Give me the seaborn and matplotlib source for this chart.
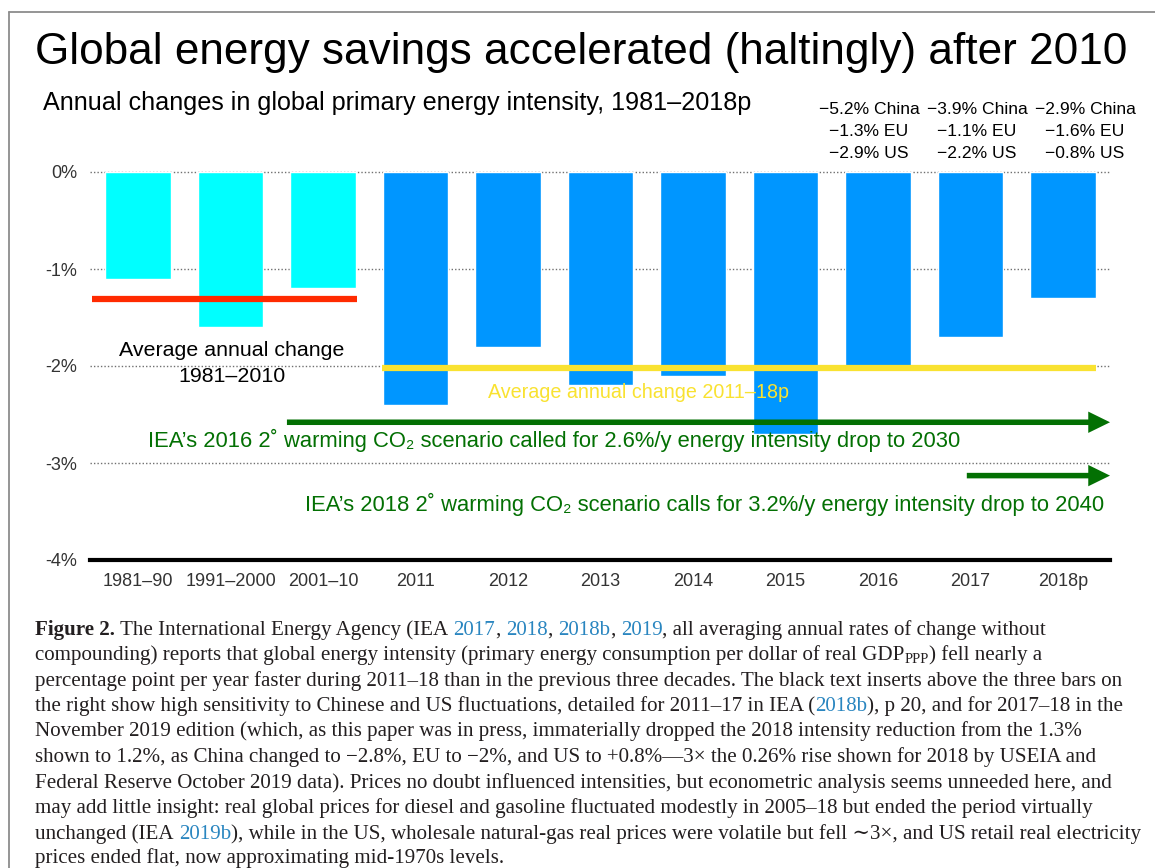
import numpy as np
import pandas as pd
import matplotlib
matplotlib.use("Agg")
import matplotlib.pyplot as plt
from matplotlib.patches import FancyArrow
from matplotlib.lines import Line2D
import seaborn as sns

# ---------------- data ----------------
periods = ["1981–90", "1991–2000", "2001–10", "2011", "2012", "2013",
           "2014", "2015", "2016", "2017", "2018p"]
changes = [-1.1, -1.6, -1.2, -2.4, -1.8, -2.2, -2.1, -2.7, -2.0, -1.7, -1.3]
bar_colors = ["#00ffff"] * 3 + ["#0096ff"] * 8

avg_1981_2010 = -1.31
avg_2011_2018 = -2.02
iea2016_level = -2.58
iea2018_level = -3.13

ytick_vals = [0, -1, -2, -3, -4]
ytick_labels = ["0%", "-1%", "-2%", "-3%", "-4%"]

insert_cols = [
    ["−5.2% China", "−1.3% EU", "−2.9% US"],
    ["−3.9% China", "−1.1% EU", "−2.2% US"],
    ["−2.9% China", "−1.6% EU", "−0.8% US"],
]

title = "Global energy savings accelerated (haltingly) after 2010"
subtitle = "Annual changes in global primary energy intensity, 1981–2018p"
green_text1 = "IEA’s 2016 2˚ warming CO₂ scenario called for 2.6%/y energy intensity drop to 2030"
green_text2 = "IEA’s 2018 2˚ warming CO₂ scenario calls for 3.2%/y energy intensity drop to 2040"
yellow_text = "Average annual change 2011–18p"
black_text1 = "Average annual change"
black_text2 = "1981–2010"

caption = [
    [("Figure 2.", "bold", False), ("The International Energy Agency (IEA", "n", True),
     ("2017", "link", True), (",", "n", False), ("2018", "link", True), (",", "n", False),
     ("2018b", "link", True), (",", "n", False), ("2019", "link", True),
     (", all averaging annual rates of change without", "n", False)],
    [("compounding) reports that global energy intensity (primary energy consumption per dollar of real GDP", "n", False),
     ("PPP", "sub", False), (") fell nearly a", "n", False)],
    [("percentage point per year faster during 2011–18 than in the previous three decades. The black text inserts above the three bars on", "n", False)],
    [("the right show high sensitivity to Chinese and US fluctuations, detailed for 2011–17 in IEA (", "n", False),
     ("2018b", "link", False), ("), p 20, and for 2017–18 in the", "n", False)],
    [("November 2019 edition (which, as this paper was in press, immaterially dropped the 2018 intensity reduction from the 1.3%", "n", False)],
    [("shown to 1.2%, as China changed to −2.8%, EU to −2%, and US to +0.8%—3× the 0.26% rise shown for 2018 by USEIA and", "n", False)],
    [("Federal Reserve October 2019 data). Prices no doubt influenced intensities, but econometric analysis seems unneeded here, and", "n", False)],
    [("may add little insight: real global prices for diesel and gasoline fluctuated modestly in 2005–18 but ended the period virtually", "n", False)],
    [("unchanged (IEA", "n", False), ("2019b", "link", True),
     ("), while in the US, wholesale natural-gas real prices were volatile but fell ∼3×, and US retail real electricity", "n", False)],
    [("prices ended flat, now approximating mid-1970s levels.", "n", False)],
]

# ---------------- style ----------------
RED = "#ff2a00"
YELLOW = "#f9e231"
GREEN = "#037003"
LINK = "#2a86c0"
SANS = ["Liberation Sans", "DejaVu Sans"]
SERIF = ["Liberation Serif", "DejaVu Serif"]

sns.set_theme(style="white")
plt.rcParams["font.family"] = SANS

W, H = 1155, 868
fig = plt.figure(figsize=(W / 100, H / 100), dpi=100)
fig.patch.set_facecolor("white")
renderer = fig.canvas.get_renderer()


def fx(px):
    return px / W


def fy(py):
    return 1 - py / H


def fit(t, target):
    w = t.get_window_extent(renderer).width
    t.set_fontsize(t.get_fontsize() * target / w)


# frame (page border)
fig.add_artist(Line2D([fx(9), fx(W + 5)], [fy(12), fy(12)], color="#8c8c8c", lw=1.3))
fig.add_artist(Line2D([fx(9), fx(9)], [fy(12), fy(H + 5)], color="#8c8c8c", lw=1.3))

# ---------------- axes ----------------
ax = fig.add_axes([fx(90), fy(560), fx(1110) - fx(90), fy(172) - fy(560)])
df = pd.DataFrame({"period": periods, "change": changes})
sns.barplot(data=df, x="period", y="change", hue="period",
            palette=dict(zip(periods, bar_colors)), dodge=False, legend=False,
            width=0.71, saturation=1, ax=ax, zorder=2)

ax.set_xlim(-0.519, 10.508)
ax.set_ylim(-4, 0)
ax.set_xlabel("")
ax.set_ylabel("")
for v in ytick_vals[:-1]:
    ax.axhline(v, color="#707070", lw=1.0, ls=(0, (1, 1.5)), zorder=1, clip_on=False)

for s in ["top", "right", "left"]:
    ax.spines[s].set_visible(False)
ax.spines["bottom"].set_linewidth(3)
ax.spines["bottom"].set_color("black")
ax.spines["bottom"].set_zorder(5)
ax.set_yticks(ytick_vals)
ax.set_yticklabels(ytick_labels)
ax.tick_params(axis="both", length=0, labelsize=13, labelcolor="#333333")
ax.tick_params(axis="y", pad=9)
ax.tick_params(axis="x", pad=9)
ax.grid(False)

# average lines
ax.plot([-0.5, 2.37], [avg_1981_2010] * 2, color=RED, lw=4.5, solid_capstyle="butt", zorder=4)
ax.plot([2.64, 10.36], [avg_2011_2018] * 2, color=YELLOW, lw=4.5, solid_capstyle="butt", zorder=4)

# IEA scenario arrows
for x0, x1, lvl in [(1.61, 10.508, iea2016_level), (8.96, 10.508, iea2018_level)]:
    ax.add_patch(FancyArrow(x0, lvl, x1 - x0, 0, width=0.057, head_width=0.22,
                            head_length=0.235, length_includes_head=True,
                            color=GREEN, lw=0, zorder=4, clip_on=False))

# ---------------- texts ----------------
t = fig.text(fx(35), fy(64), title, ha="left", va="baseline", fontsize=30, color="black")
fit(t, 1090)
t = fig.text(fx(43), fy(110), subtitle, ha="left", va="baseline", fontsize=15, color="black")
fit(t, 710)

col_centers = [869, 977, 1085]
for cx, col in zip(col_centers, insert_cols):
    for i, line in enumerate(col):
        fig.text(fx(cx), fy(114 + 22 * i), line, ha="center", va="baseline",
                 fontsize=12.6, color="black")

t = fig.text(fx(232), fy(351), black_text1, ha="center", va="center", fontsize=14, color="black")
fit(t, 228)
fig.text(fx(232), fy(377), black_text2, ha="center", va="center", fontsize=t.get_fontsize(), color="black")
t = fig.text(fx(488), fy(392), yellow_text, ha="left", va="center", fontsize=14, color=YELLOW)
fit(t, 302)
t = fig.text(fx(148), fy(440), green_text1, ha="left", va="center", fontsize=14, color=GREEN)
fit(t, 819)
t = fig.text(fx(305), fy(504), green_text2, ha="left", va="center", fontsize=14, color=GREEN)
fit(t, 807)

# ---------------- caption ----------------
tmp = fig.text(0, 0, caption[2][0][0], fontsize=10, family=SERIF)
cap_size = 0.985 * 10 * 1098 / tmp.get_window_extent(renderer).width
tmp.remove()
a1 = fig.text(0, 0, "a a", fontsize=cap_size, family=SERIF)
a2 = fig.text(0, 0, "aa", fontsize=cap_size, family=SERIF)
space_w = a1.get_window_extent(renderer).width - a2.get_window_extent(renderer).width
a1.remove()
a2.remove()

baselines = [635, 660, 686, 711, 736, 762, 788, 813, 839, 863]
for segs, yb in zip(caption, baselines):
    x = 35
    for text, style, sp in segs:
        if sp:
            x += space_w
        kw = dict(fontsize=cap_size, family=SERIF, color="#231f20")
        yy = yb
        if style == "bold":
            kw["weight"] = "bold"
        elif style == "link":
            kw["color"] = LINK
        elif style == "sub":
            kw["fontsize"] = cap_size * 0.7
            yy = yb + 3
        tt = fig.text(fx(x), fy(yy), text, ha="left", va="baseline", **kw)
        x += tt.get_window_extent(renderer).width

fig.savefig("out.png", dpi=100, facecolor="white")
